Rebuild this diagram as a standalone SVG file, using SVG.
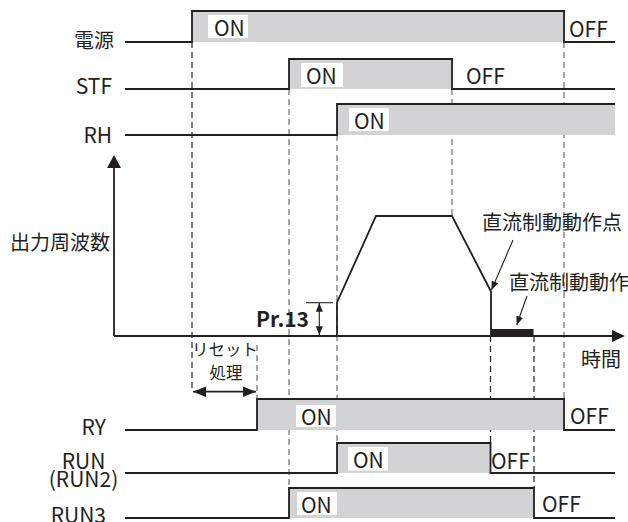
<svg xmlns="http://www.w3.org/2000/svg" width="628" height="522" viewBox="0 0 628 522">
<defs>
<style>
text{font-family:"Noto Sans CJK JP","Noto Sans",sans-serif;fill:#231f20}
.lat{font-size:21px}
.jp{font-size:20px}
.sm{font-size:16.5px}
.sig{fill:none;stroke:#231f20;stroke-width:1.8}
.fill{fill:#d1d3d4}
.box{fill:#fff}
.dk{fill:none;stroke:#231f20;stroke-width:1.2;stroke-dasharray:6 4}
.gy{fill:none;stroke:#6d6e71;stroke-width:1.2;stroke-dasharray:6 4}
.thin{fill:none;stroke:#231f20;stroke-width:1.1}
</style>
<marker id="a" viewBox="0 0 10 8" refX="10" refY="4" markerWidth="9" markerHeight="7" markerUnits="userSpaceOnUse" orient="auto-start-reverse"><path d="M0,0L10,4L0,8z" fill="#231f20"/></marker>
<marker id="b" viewBox="0 0 10 8" refX="10" refY="4" markerWidth="13" markerHeight="12" markerUnits="userSpaceOnUse" orient="auto-start-reverse"><path d="M0,0L10,4L0,8z" fill="#231f20"/></marker>
</defs>
<rect width="628" height="522" fill="#fff"/>

<g id="connectors">
<line class="dk" x1="192" y1="42" x2="192" y2="392"/>
<line class="gy" x1="289" y1="89" x2="289" y2="488"/>
<line class="gy" x1="337" y1="135" x2="337" y2="443"/>
<line class="gy" x1="452" y1="89" x2="452" y2="216"/>
<line class="gy" x1="564" y1="42" x2="564" y2="399"/>
<line class="dk" x1="490.5" y1="336" x2="490.5" y2="443"/>
<line class="dk" x1="534" y1="336" x2="534" y2="488"/>
<line class="gy" x1="257" y1="345" x2="257" y2="399"/>
<line class="thin" x1="513" y1="240" x2="491.5" y2="290" marker-end="url(#a)"/>
<line class="thin" x1="527" y1="296" x2="516.7" y2="325" marker-end="url(#a)"/>
<line class="thin" x1="319.3" y1="303" x2="319.3" y2="335" marker-start="url(#a)" marker-end="url(#a)"/>
<line class="thin" x1="306" y1="302.7" x2="333" y2="302.7"/>
<line x1="193" y1="391.7" x2="256" y2="391.7" stroke="#231f20" stroke-width="1.8" marker-start="url(#b)" marker-end="url(#b)"/>
</g>

<g id="power">
<rect class="fill" x="192" y="11" width="372" height="31"/>
<polyline class="sig" points="125,42 192,42 192,11 564,11 564,42 615,42"/>
<rect class="box" x="208" y="15" width="40" height="23"/>
<text class="lat" x="214" y="36">ON</text>
<text class="lat" x="569" y="36.5">OFF</text>
<text class="jp" x="114" y="48" text-anchor="end">電源</text>
</g>

<g id="stf">
<rect class="fill" x="289" y="59" width="163" height="30"/>
<polyline class="sig" points="125,89 289,89 289,59 452,59 452,89 615,89"/>
<rect class="box" x="301" y="63" width="42" height="24"/>
<text class="lat" x="306" y="84">ON</text>
<text class="lat" x="466" y="84">OFF</text>
<text class="lat" x="112" y="94" text-anchor="end">STF</text>
</g>

<g id="rh">
<rect class="fill" x="337" y="104" width="278" height="31"/>
<polyline class="sig" points="125,135 337,135 337,104 615,104"/>
<rect class="box" x="349" y="108" width="40" height="23"/>
<text class="lat" x="354" y="129">ON</text>
<text class="lat" x="112" y="143" text-anchor="end">RH</text>
</g>

<g id="frequency">
<line x1="114" y1="336" x2="114" y2="166" stroke="#231f20" stroke-width="1.8"/>
<polygon points="114,155 107,168 121,168" fill="#231f20"/>
<line x1="114" y1="336" x2="613" y2="336" stroke="#231f20" stroke-width="1.8"/>
<polygon points="625,336 612,330 612,342" fill="#231f20"/>
<polyline class="sig" points="337,336 337,302.5 376,216 452,216 491,291.5 491,336"/>
<rect x="491" y="329" width="42.5" height="7" fill="#231f20"/>
<text class="jp" x="10" y="250">出力周波数</text>
<text class="lat" x="309" y="326.5" text-anchor="end" font-weight="bold">Pr.13</text>
<text class="jp" x="482" y="230">直流制動動作点</text>
<text class="jp" x="509" y="289.5">直流制動動作</text>
<text class="jp" x="581" y="367">時間</text>
</g>

<g id="reset">
<text class="sm" x="225" y="356" text-anchor="middle">リセット</text>
<text class="sm" x="226" y="379" text-anchor="middle">処理</text>
</g>

<g id="ry">
<rect class="fill" x="257" y="399" width="307" height="31"/>
<polyline class="sig" points="125,430 257,430 257,399 564,399 564,430 615,430"/>
<rect class="box" x="296" y="405" width="40" height="22"/>
<text class="lat" x="301" y="425">ON</text>
<text class="lat" x="570" y="424">OFF</text>
<text class="lat" x="106" y="435" text-anchor="end">RY</text>
</g>

<g id="run">
<rect class="fill" x="337" y="443" width="153.5" height="30"/>
<polyline class="sig" points="125,473 337,473 337,443 490.5,443 490.5,473 615,473"/>
<rect class="box" x="348" y="447" width="40" height="23.5"/>
<text class="lat" x="353" y="468">ON</text>
<text class="lat" x="491" y="469">OFF</text>
<text class="lat" x="83.5" y="469" text-anchor="middle">RUN</text>
<text class="lat" x="83.5" y="487" text-anchor="middle">(RUN2)</text>
</g>

<g id="run3">
<rect class="fill" x="289" y="488" width="245" height="30"/>
<polyline class="sig" points="125,518 289,518 289,488 534,488 534,518 615,518"/>
<rect class="box" x="297" y="492" width="40" height="23"/>
<text class="lat" x="301" y="513">ON</text>
<text class="lat" x="542" y="512">OFF</text>
<text class="lat" x="106" y="523" text-anchor="end">RUN3</text>
</g>
</svg>
